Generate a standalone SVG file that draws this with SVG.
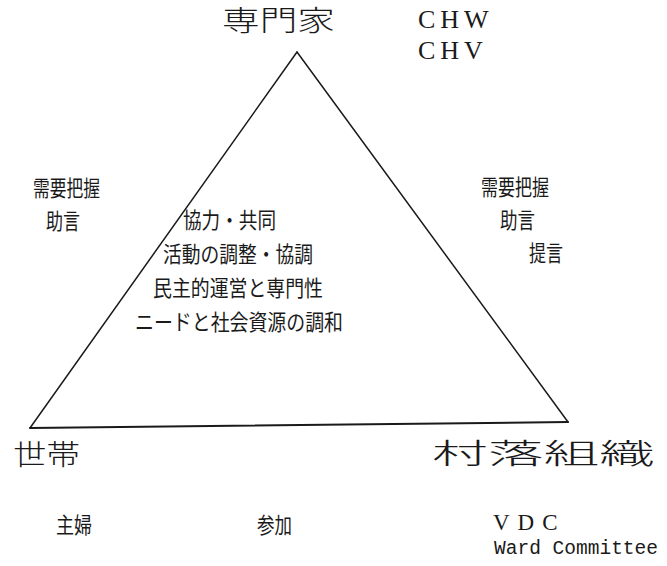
<svg xmlns="http://www.w3.org/2000/svg" width="667" height="566" viewBox="0 0 667 566">
<style>
.jp{font-family:"Noto Sans CJK JP","Noto Sans CJK SC",sans-serif;fill:#1a1a1a}
.big{font-size:28px;font-weight:300}
.mid{font-size:22px}
.lat{font-family:"Liberation Serif",serif;font-size:26px;fill:#1a1a1a;letter-spacing:5px}
.mono{font-family:"Liberation Mono",monospace;font-size:20px;fill:#1a1a1a}
.edge{stroke:#1a1a1a;stroke-width:1.5;fill:none;stroke-linecap:round}
</style>
<rect width="667" height="566" fill="#fff"/>
<g id="connectors">
<line class="edge" x1="297" y1="52" x2="30" y2="428"/>
<line class="edge" x1="297" y1="52" x2="568" y2="422"/>
<line class="edge" x1="30" y1="428" x2="568" y2="422" style="stroke-width:2"/>
</g>
<g id="node-expert">
<text class="jp big" x="222" y="31" textLength="113" lengthAdjust="spacingAndGlyphs">専門家</text>
<text class="lat" x="418" y="28">CHW</text>
<text class="lat" x="418" y="59">CHV</text>
</g>
<g id="label-left">
<text class="jp mid" x="33" y="196" textLength="67" lengthAdjust="spacingAndGlyphs">需要把握</text>
<text class="jp mid" x="46" y="229" textLength="34" lengthAdjust="spacingAndGlyphs">助言</text>
</g>
<g id="label-right">
<text class="jp mid" x="481" y="195" textLength="68" lengthAdjust="spacingAndGlyphs">需要把握</text>
<text class="jp mid" x="500" y="228" textLength="35" lengthAdjust="spacingAndGlyphs">助言</text>
<text class="jp mid" x="529" y="261" textLength="34" lengthAdjust="spacingAndGlyphs">提言</text>
</g>
<g id="label-center">
<text class="jp mid" x="183" y="228" textLength="93" lengthAdjust="spacingAndGlyphs">協力・共同</text>
<text class="jp mid" x="163" y="262" textLength="150" lengthAdjust="spacingAndGlyphs">活動の調整・協調</text>
<text class="jp mid" x="153" y="296" textLength="170" lengthAdjust="spacingAndGlyphs">民主的運営と専門性</text>
<text class="jp mid" x="135" y="330" textLength="208" lengthAdjust="spacingAndGlyphs">ニードと社会資源の調和</text>
</g>
<g id="node-household">
<text class="jp big" x="13" y="465" textLength="67" lengthAdjust="spacingAndGlyphs">世帯</text>
<text class="jp mid" x="56" y="533" textLength="36" lengthAdjust="spacingAndGlyphs">主婦</text>
</g>
<g id="label-participation">
<text class="jp mid" x="257" y="533" textLength="35" lengthAdjust="spacingAndGlyphs">参加</text>
</g>
<g id="node-village">
<text class="jp big" x="432" y="464" textLength="223" lengthAdjust="spacingAndGlyphs">村落組織</text>
<text class="lat" x="493" y="530" style="font-size:23px;letter-spacing:8px">VDC</text>
<text class="mono" x="494" y="554" textLength="164" lengthAdjust="spacingAndGlyphs">Ward Committee</text>
</g>
</svg>
